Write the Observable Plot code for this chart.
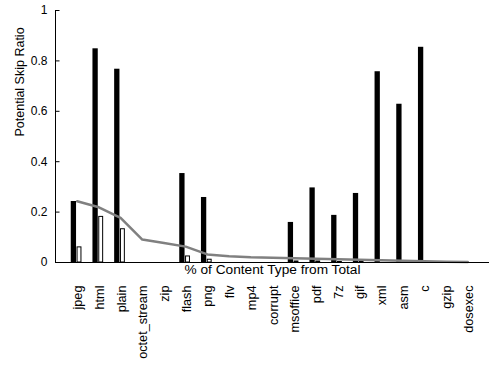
<!DOCTYPE html>
<html>
<head>
<meta charset="utf-8">
<script src="https://cdn.jsdelivr.net/npm/d3@7"></script>
<script src="https://cdn.jsdelivr.net/npm/@observablehq/plot@0.6"></script>
<style>
  html, body { margin: 0; padding: 0; background: #fff; }
  #chart svg { display: block; }
</style>
</head>
<body>
<div id="chart"></div>
<script>
const categories = ["jpeg","html","plain","octet_stream","zip","flash","png","flv","mp4","corrupt","msoffice","pdf","7z","gif","xml","asm","c","gzip","dosexec"];
const skipRatio = [0.242,0.848,0.767,0,0,0.353,0.258,0,0,0,0.159,0.296,0.187,0.274,0.757,0.628,0.854,0,0];
const skipRatioAlt = [0.06,0.181,0.132,0,0,0.024,0.011,0,0,0,0.004,0.004,0.002,0.002,0,0,0,0,0];
const shareOfTotal = [0.243,0.219,0.177,0.091,0.077,0.063,0.032,0.025,0.021,0.019,0.017,0.015,0.013,0.011,0.009,0.007,0.005,0.003,0.002];
const yTicks = [0, 0.2, 0.4, 0.6, 0.8, 1];
const xLabel = "% of Content Type from Total";
const yLabel = "Potential Skip Ratio";

const table = categories.map((c, i) => ({cat: c, a: skipRatio[i], b: skipRatioAlt[i], s: shareOfTotal[i]}));

const chart = Plot.plot({
  width: 490,
  height: 365,
  marginLeft: 55,
  marginRight: 1,
  marginTop: 10,
  marginBottom: 103,
  style: {fontFamily: "'Liberation Sans', Arial, sans-serif", fontSize: "12px", background: "#fff", color: "#000"},
  x: {type: "band", domain: categories, paddingInner: 0, paddingOuter: 0.5, round: false},
  y: {domain: [0, 1]},
  marks: [
    Plot.barY(table.filter(d => d.a > 0), {x: "cat", y: "a", fill: "#000", insetLeft: 4.9, insetRight: 11.5}),
    Plot.barY(table.filter(d => d.b > 0), {x: "cat", y: "b", fill: "#fff", stroke: "#000", strokeWidth: 1, insetLeft: 11.2, insetRight: 6.6}),
    Plot.lineY(table, {x: "cat", y: "s", stroke: "#808080", strokeWidth: 2.5, curve: "linear"}),
    Plot.ruleY([0], {stroke: "#000", strokeWidth: 1}),
    Plot.frame({anchor: "left", stroke: "#000"}),
    Plot.ruleY(yTicks, {y: d => d, stroke: "#000", strokeWidth: 1, insetRight: 429.5}),
    Plot.axisY({ticks: yTicks, tickSize: 0, tickPadding: 8, tickFormat: d => String(d), label: null, fontSize: 12}),
    Plot.axisX({tickSize: 0, tickPadding: 23, tickRotate: -90, label: null, fontSize: 12.7, dx: 1}),
    Plot.text([xLabel], {frameAnchor: "bottom", dy: 11, fontSize: 13.7, text: d => d}),
    Plot.text([yLabel], {frameAnchor: "left", dx: -36, rotate: -90, fontSize: 12.5, text: d => d})
  ]
});
document.getElementById("chart").appendChild(chart);
</script>
</body>
</html>
